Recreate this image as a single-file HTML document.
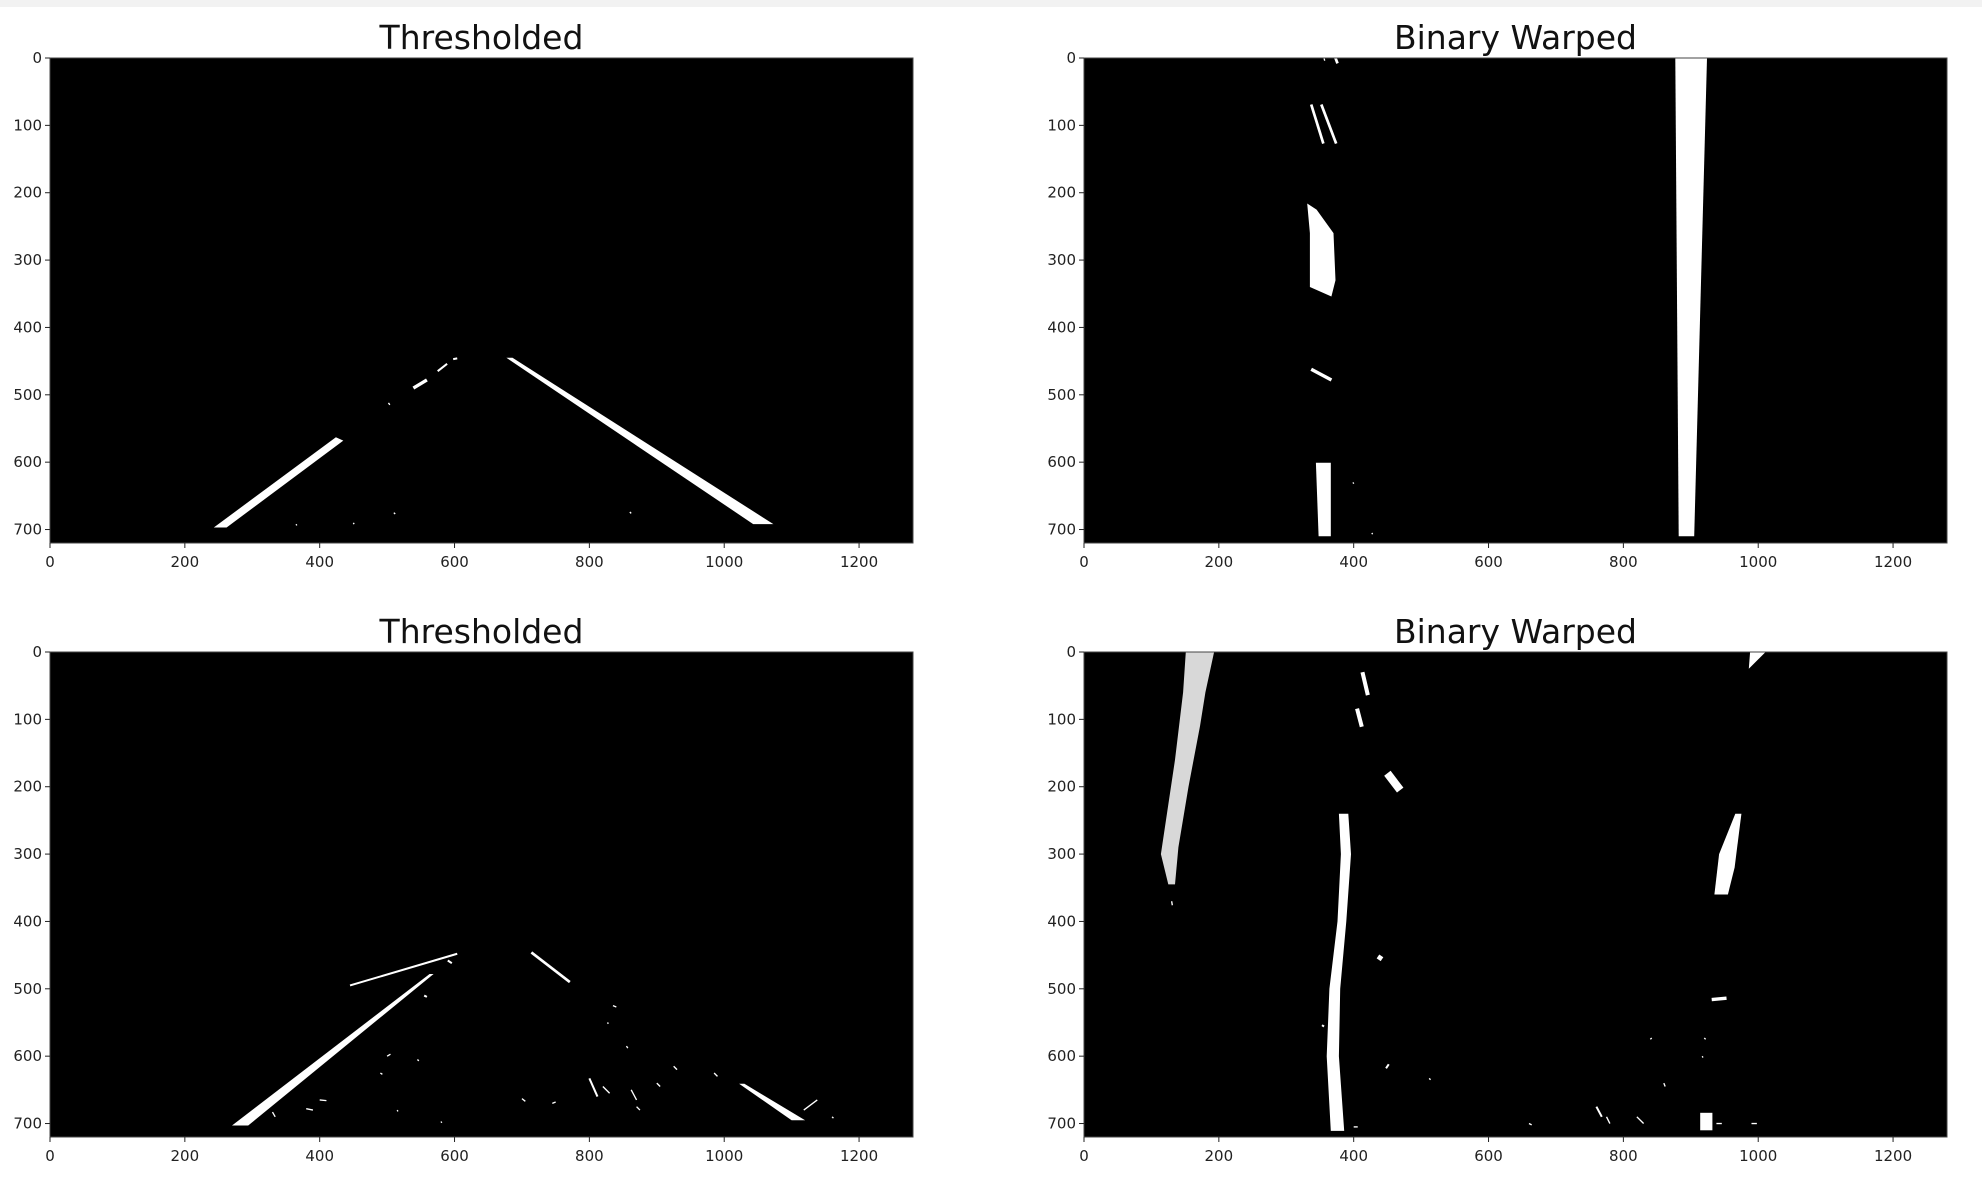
<!DOCTYPE html>
<html><head><meta charset="utf-8"><style>
html,body{margin:0;padding:0;background:#fff;}
svg{display:block;}
text{font-family:"DejaVu Sans","Liberation Sans",sans-serif;fill:#222;}
</style></head><body>
<svg id="fig" width="1982" height="1182" xmlns="http://www.w3.org/2000/svg">
<rect x="0" y="0" width="1982" height="7" fill="#f2f2f2"/>
</svg>
<script>
// Axis ticks
const xTicks = [0, 200, 400, 600, 800, 1000, 1200];
const yTicks = [0, 100, 200, 300, 400, 500, 600, 700];
const titles = ["Thresholded", "Binary Warped", "Thresholded", "Binary Warped"];
// Shapes per panel (image pixel coordinates, 1280x720)
// segments: [x1,y1,x2,y2,width]
const tlPolys = [
  [243,697, 262,697, 435,568, 424,563],
  [677,445, 686,445, 1073,692, 1043,692]
];
const tlSegs = [
  [539,490,559,478,5],[575,465,589,454,3],[598,447,604,446,3],[502,512,504,515,2],
  [450,690,451,692,2],[510,675,512,677,2],[365,692,366,694,2],[860,674,862,676,2]
];
const trPolys = [
  [877,0, 924,0, 905,710, 882,710],
  [331,216, 345,225, 370,260, 373,330, 367,354, 335,340, 335,260],
  [344,601, 366,601, 366,710, 348,710]
];
const trSegs = [
  [356,0,357,4,2],[373,0,376,8,4],[337,69,355,127,4],[352,69,374,127,4],
  [337,462,367,478,5],[399,630,400,632,2],[427,705,428,707,2]
];
const blPolys = [
  [270,703, 294,703, 569,478, 563,478],
  [1022,641, 1030,641, 1120,695, 1100,695]
];
const blSegs = [
  [445,495,604,448,3],[714,446,771,490,4],[590,458,596,462,3],
  [835,525,840,527,2],[827,550,828,552,2],[855,585,857,588,2],
  [800,633,812,660,3],[820,645,830,655,2],[862,650,870,665,2],[900,640,905,645,2],
  [925,615,930,620,2],[985,625,990,630,2],[1118,680,1138,665,2],[1160,690,1162,692,2],
  [400,665,410,666,2],[380,678,390,680,2],[500,600,505,597,2],[545,605,547,607,2],
  [490,625,493,627,2],[700,663,705,667,2],[745,670,750,668,2],[870,675,875,680,2],
  [555,510,559,512,3],[330,683,334,690,2],[580,697,581,699,2],[515,680,516,682,2]
];
const brPolys = [
  [151,0, 193,0, 180,60, 172,110, 155,200, 140,290, 135,345, 125,345, 114,300, 135,160, 147,60],
  [378,240, 392,240, 396,300, 389,400, 380,500, 378,600, 386,711, 366,711, 360,600, 364,500, 376,400, 381,300],
  [988,0, 1011,0, 986,25],
  [966,240, 975,240, 965,320, 955,360, 935,360, 942,300],
  [914,684, 932,684, 932,710, 914,710]
];
const brSegs = [
  [413,30,421,64,6],[405,84,412,111,6],[450,180,469,205,12],[436,452,442,456,7],
  [931,516,953,514,5],[130,370,131,376,2],[353,554,356,556,3],[448,618,452,612,3],
  [512,633,514,635,2],[840,575,842,573,2],[920,573,922,575,2],[917,600,918,602,2],
  [760,675,768,690,3],[775,690,780,700,2],[820,690,830,700,2],[660,700,664,702,2],
  [860,640,862,645,2],[938,700,946,700,2],[990,700,998,700,2],[400,705,406,705,2]
];

const axes = [
  {x:50, y:58, polys:tlPolys, segs:tlSegs, name:'thresholded-top'},
  {x:1084, y:58, polys:trPolys, segs:trSegs, name:'binary-warped-top'},
  {x:50, y:652, polys:blPolys, segs:blSegs, name:'thresholded-bottom'},
  {x:1084, y:652, polys:brPolys, segs:brSegs, name:'binary-warped-bottom'}
];
const W = 863, H = 485, IW = 1280, IH = 720;
const NS = 'http://www.w3.org/2000/svg';
const svg = document.getElementById('fig');
function mk(tag, attrs, parent){
  const e = document.createElementNS(NS, tag);
  for (const k in attrs) e.setAttribute(k, attrs[k]);
  (parent||svg).appendChild(e);
  return e;
}
axes.forEach((a, i) => {
  const sx = v => a.x + v / IW * W;
  const sy = v => a.y + v / IH * H;
  const k = W / IW;
  const g = mk('g', {});
  
  
  const bg = mk('rect', {x:a.x, y:a.y, width:W, height:H, fill:'#000'}, g);
  
  
  a.polys.forEach(p => {
    const pts = [];
    for (let j = 0; j < p.length; j += 2) pts.push(sx(p[j]).toFixed(1) + ',' + sy(p[j+1]).toFixed(1));
    const el = mk('polygon', {points: pts.join(' '), fill: (i===3 && p===brPolys[0]) ? '#d8d8d8' : '#fff'}, g);
    
    
  });
  a.segs.forEach(s => {
    const el = mk('line', {x1:sx(s[0]), y1:sy(s[1]), x2:sx(s[2]), y2:sy(s[3]), stroke:'#fff', 'stroke-width': Math.max(1.2, s[4]*k)}, g);
    
    
  });
  const fr = mk('rect', {x:a.x, y:a.y, width:W, height:H, fill:'none', stroke:'#444', 'stroke-width':1}, g);
  
  
  xTicks.forEach(t => {
    const x = sx(t);
    mk('line', {x1:x, y1:a.y+H, x2:x, y2:a.y+H+5, stroke:'#222', 'stroke-width':1}, g);
    const tx = mk('text', {x:x, y:a.y+H+24, 'font-size':15, 'text-anchor':'middle'}, g);
    tx.textContent = t;
    
    
  });
  yTicks.forEach(t => {
    const y = sy(t);
    mk('line', {x1:a.x-5, y1:y, x2:a.x, y2:y, stroke:'#222', 'stroke-width':1}, g);
    const tx = mk('text', {x:a.x-8, y:y+5, 'font-size':15, 'text-anchor':'end'}, g);
    tx.textContent = t;
    
    
  });
  const ti = mk('text', {x:a.x+W/2, y:a.y-9, 'font-size':33, 'text-anchor':'middle', style:'fill:#111'}, g);
  ti.textContent = titles[i];
  
  
});
</script>
</body></html>
